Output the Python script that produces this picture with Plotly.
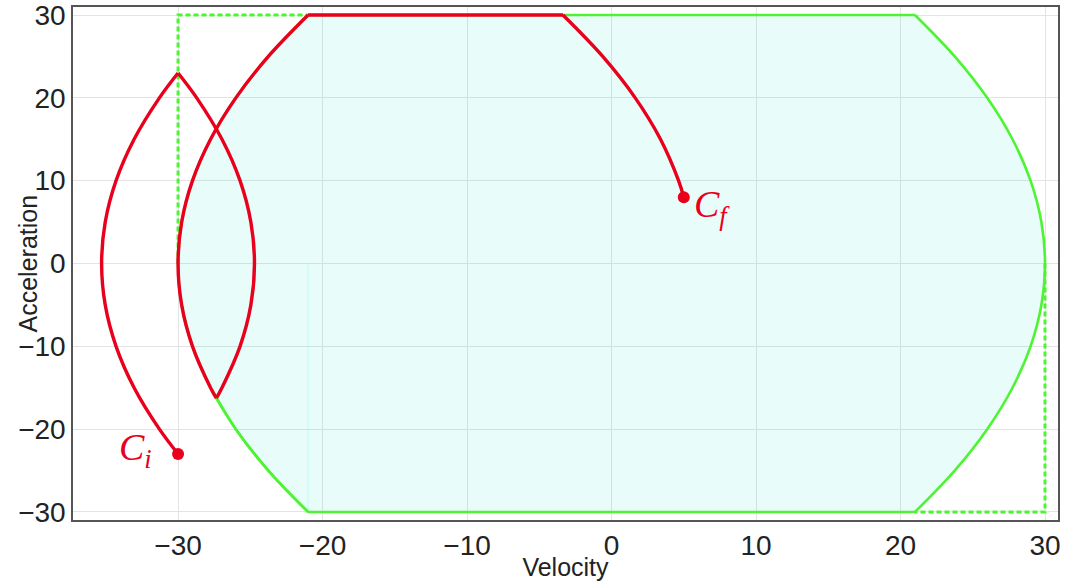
import plotly.graph_objects as go

# ---- data (velocity v, acceleration a) ----
# trajectory segments (red)
seg1_v = [-30.00, -31.29, -33.04, -34.29, -35.04, -35.29, -35.04, -34.29, -33.04, -31.29, -30.00]
seg1_a = [-23, -20, -15, -10, -5, 0, 5, 10, 15, 20, 23]
seg2_v = [-30.00, -28.71, -26.96, -25.71, -24.96, -24.71, -24.96, -25.71, -26.96, -27.35]
seg2_a = [23, 20, 15, 10, 5, 0, -5, -10, -15, -16.26]
seg3_v = [-27.35, -27.75, -29.0, -29.75, -30.0, -29.75, -29.0, -27.75, -26.0, -23.75, -21.0]
seg3_a = [-16.26, -15, -10, -5, 0, 5, 10, 15, 20, 25, 30]
seg4_v = [-21.0, -3.36]
seg4_a = [30, 30]
seg5_v = [-3.36, -0.61, 1.64, 3.39, 4.64, 5.0]
seg5_a = [30, 25, 20, 15, 10, 8]

# reachable-set boundary (green)
right_v = [21, 23.75, 26, 27.75, 29, 29.75, 30, 29.75, 29, 27.75, 26, 23.75, 21]
right_a = [-30, -25, -20, -15, -10, -5, 0, 5, 10, 15, 20, 25, 30]
left_v = [-21, -23.75, -26, -27.75, -29, -29.75, -30, -29.75, -29, -27.75, -26, -23.75, -21]
left_a = [30, 25, 20, 15, 10, 5, 0, -5, -10, -15, -20, -25, -30]
lowleft_v = [-27.35, -27.75, -26.0, -23.75, -21.0]
lowleft_a = [-16.26, -15, -20, -25, -30]
top_v = [-21, 21]
top_a = [30, 30]
bottom_v = [-21, 21]
bottom_a = [-30, -30]

# dashed limits (green dashed)
dashL_v = [-30, -30, -21]
dashL_a = [0, 30, 30]
dashR_v = [30, 30, 21]
dashR_a = [0, -30, -30]

seam_v = [-21, -21]
seam_a = [0, -30]

# start / final points
start_v, start_a = [-30], [-23]
final_v, final_a = [5], [8]

xticks = [-30, -20, -10, 0, 10, 20, 30]
yticks = [-30, -20, -10, 0, 10, 20, 30]

RED = "#e8001c"
GREEN = "#4cf432"
FILL = "rgba(0,235,195,0.09)"

fig = go.Figure()

# fill
fig.add_trace(go.Scatter(x=right_v + left_v, y=right_a + left_a, mode="lines",
                         fill="toself", fillcolor=FILL, line=dict(width=0),
                         hoverinfo="skip", showlegend=False))
fig.add_trace(go.Scatter(x=seam_v, y=seam_a, mode="lines",
                         line=dict(color="rgba(0,240,220,0.10)", width=1.5),
                         hoverinfo="skip", showlegend=False))

# dashed
for xs, ys in [(dashL_v, dashL_a), (dashR_v, dashR_a)]:
    fig.add_trace(go.Scatter(x=xs, y=ys, mode="lines",
                             line=dict(color=GREEN, width=3, dash="5px,3px"),
                             showlegend=False))

# green boundary
for xs, ys, shp in [(right_v, right_a, "spline"), (top_v, top_a, "linear"),
                    (bottom_v, bottom_a, "linear"), (lowleft_v, lowleft_a, "spline"),
                    (left_v, left_a, "spline")]:
    fig.add_trace(go.Scatter(x=xs, y=ys, mode="lines",
                             line=dict(color=GREEN, width=2.6, shape=shp),
                             showlegend=False))

# red trajectory
for xs, ys, shp in [(seg1_v, seg1_a, "spline"), (seg2_v, seg2_a, "spline"),
                    (seg3_v, seg3_a, "spline"), (seg4_v, seg4_a, "linear"),
                    (seg5_v, seg5_a, "spline")]:
    fig.add_trace(go.Scatter(x=xs, y=ys, mode="lines",
                             line=dict(color=RED, width=3.4, shape=shp),
                             showlegend=False))

fig.add_trace(go.Scatter(x=start_v + final_v, y=start_a + final_a, mode="markers",
                         marker=dict(color=RED, size=12), showlegend=False))

afont = dict(family="Liberation Serif, DejaVu Serif, serif", size=38, color=RED)
fig.add_annotation(x=start_v[0], y=start_a[0], text="<i>C</i><sub><i>i</i></sub>",
                   showarrow=False, xanchor="right", yanchor="middle",
                   xshift=-24, yshift=4, font=afont)
fig.add_annotation(x=final_v[0], y=final_a[0], text="<i>C</i><sub><i>f</i></sub>",
                   showarrow=False, xanchor="left", yanchor="middle",
                   xshift=8, yshift=-10, font=afont)

title_font = dict(family="Liberation Sans, Arial", size=25, color="#222222")
fig.add_annotation(xref="paper", yref="paper", x=-0.0457, y=0.5, text="Acceleration",
                   textangle=-90, showarrow=False, xanchor="center", yanchor="middle",
                   font=title_font)

axis_common = dict(showgrid=True, gridcolor="#e3e3e3", gridwidth=1, zeroline=False,
                   showline=True, mirror=True, linecolor="#555555", linewidth=1.5,
                   ticks="", automargin=False, ticklabeloverflow="allow",
                   tickfont=dict(family="Liberation Sans, Arial", size=28, color="#222222"))

fig.update_xaxes(range=[-37.27, 30.9], tickvals=xticks, title_text="Velocity",
                 title_font=title_font, title_standoff=2, **axis_common)
fig.update_yaxes(range=[-30.97, 30.97], tickvals=yticks, **axis_common)

fig.update_layout(width=1065, height=581, plot_bgcolor="white", paper_bgcolor="white",
                  margin=dict(l=73, r=7, t=7, b=61))

fig.write_html("out.html", config={"displayModeBar": False},
               post_script="document.body.style.margin='0';document.body.style.overflow='hidden';")
